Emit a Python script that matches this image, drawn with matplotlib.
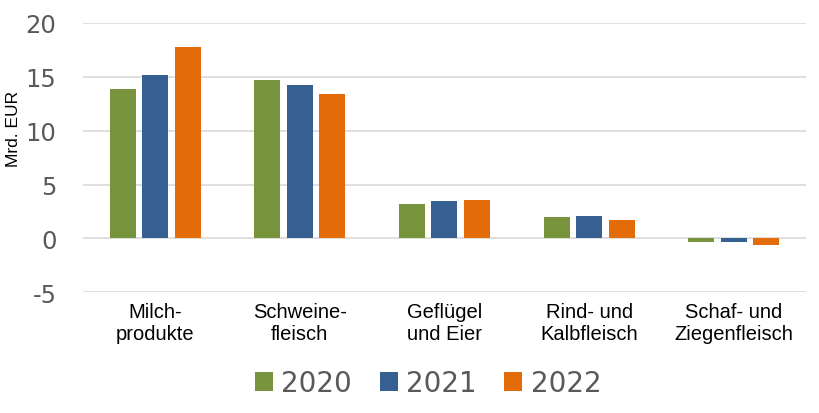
import numpy as np
import matplotlib
matplotlib.use("Agg")
import matplotlib.pyplot as plt
from matplotlib.patches import Patch

plt.rcParams["axes.unicode_minus"] = False

categories = ["Milch-\nprodukte", "Schweine-\nfleisch", "Geflügel\nund Eier",
              "Rind- und\nKalbfleisch", "Schaf- und\nZiegenfleisch"]
years = ["2020", "2021", "2022"]
v2020 = [13.9, 14.65, 3.15, 1.95, -0.3]
v2021 = [15.15, 14.2, 3.5, 2.05, -0.3]
v2022 = [17.8, 13.4, 3.6, 1.7, -0.6]
colors = ["#77933C", "#376092", "#E36C09"]

fig = plt.figure(figsize=(8.2, 4.14), dpi=100)
ax = fig.add_axes([0.101, 0.2915, 0.882, 0.651])

x = np.arange(len(categories))
width = 0.18
step = 0.225
for k, vals in enumerate([v2020, v2021, v2022]):
    ax.bar(x + (k - 1) * step, vals, width, color=colors[k], zorder=3)

ax.set_xlim(-0.5, 4.5)
ax.set_ylim(-5, 20)
ax.set_yticks([-5, 0, 5, 10, 15, 20])
ax.grid(axis="y", color="#D9D9D9", linewidth=1.2, zorder=0)
for s in ax.spines.values():
    s.set_visible(False)
ax.tick_params(axis="y", length=0, pad=19, labelsize=17.5, labelcolor="#595959")
ax.tick_params(axis="x", length=0, pad=7)
ax.set_xticks(x)
ax.set_xticklabels(categories, fontfamily="Liberation Sans", fontsize=14.5,
                   linespacing=1.2, color="black")
ax.set_ylabel("Mrd. EUR", fontfamily="Liberation Sans", fontsize=12.5)
ax.yaxis.set_label_coords(-0.086, 0.61)

handles = [Patch(facecolor=c, edgecolor="none") for c in colors]
fig.legend(handles, years, loc="center", bbox_to_anchor=(0.522, 0.072), ncol=3,
           frameon=False, fontsize=20, handlelength=0.65, handleheight=0.65,
           handletextpad=0.3, columnspacing=1.0, labelcolor="#595959")

fig.savefig("out.png", dpi=100)
